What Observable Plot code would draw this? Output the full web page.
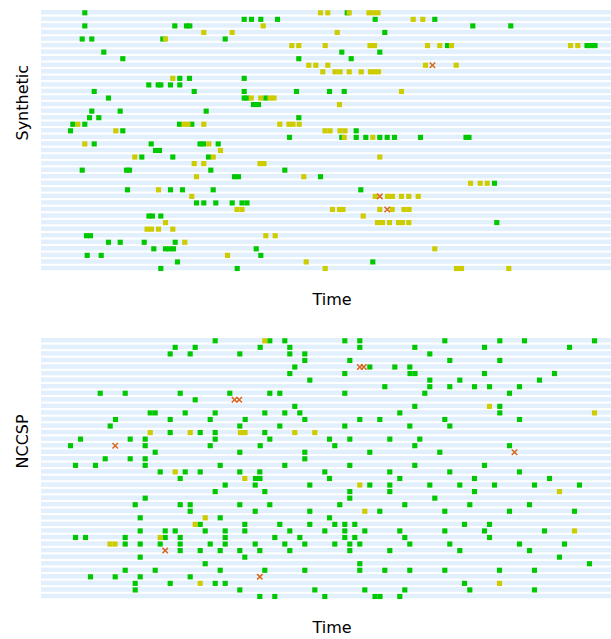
<!DOCTYPE html>
<html><head><meta charset="utf-8">
<script src="https://cdn.jsdelivr.net/npm/d3@7"></script>
<script src="https://cdn.jsdelivr.net/npm/@observablehq/plot@0.6"></script>
<style>body{margin:0;background:#fff} #chart{width:611px} svg{display:block}</style>
</head><body><div id="chart"></div>
<script>
// Row index = position in each array (row 0 at top), values = Time
const panelLabels = ["Synthetic", "NCCSP"];
const axisLabel = "Time";

const syntheticGreen = [
  [43.3, 305.7],
  [202.7, 210, 219.3, 236, 333.7, 393.3],
  [43.3, 133.3, 145, 148.3, 431.3, 469.3],
  [343.3],
  [40.7, 50.3, 121.3, 183.7],
  [406, 545.5, 549.5, 553.5],
  [62.3, 300.3, 338.3],
  [81.3, 257.3, 309.7],
  [],
  [],
  [138.3, 148, 202.7],
  [107.3, 116.7, 119.3, 129, 138.3],
  [52.7, 152.7, 202.7, 255, 288, 302.7],
  [67, 202.7, 205.3, 224.3],
  [212, 217],
  [50.3, 78.7, 164.7],
  [48, 57.3, 257.3],
  [31.3, 43.3, 138, 150.3],
  [29, 81.3, 314.7],
  [248, 300.3, 314.7, 324.3, 338.3, 345.7, 353, 379, 424.5, 427.5],
  [52.7, 109.7, 158.5, 162, 176.7],
  [114, 118],
  [100.3, 131.3, 167],
  [],
  [40.7, 85, 88, 169.3, 243.3],
  [193, 197, 279],
  [453],
  [86, 129, 141, 171.7, 319.3],
  [],
  [155, 162.3, 174.3, 190.7, 200.5, 205.5],
  [],
  [107.5, 111, 119.3],
  [455.3],
  [],
  [45, 49],
  [67, 78.7, 102.7, 133.7],
  [112.3, 124, 128, 132, 214.7],
  [45.7, 59.7, 219.3],
  [136, 331.3],
  [119.3, 195.7]
];
const syntheticYellow = [
  [279, 286.3, 307.7, 327.5, 332, 336.5],
  [371.7, 381.3],
  [221.7],
  [162.3, 190.7, 295.7],
  [124],
  [250.3, 257.3, 283.7, 328.5, 333, 386, 398.3, 410, 529, 536.3],
  [],
  [],
  [267.3, 274.3, 286.3, 384, 414.7],
  [281.3, 293.5, 298.5, 307.7, 319.7, 329, 333, 337],
  [131.3],
  [],
  [360],
  [209.7, 219.3, 228.5, 232.5],
  [298],
  [],
  [],
  [36.3, 142.5, 146.5, 162.3, 238.3, 247.5, 251.5, 257.7],
  [74.3, 283.5, 288.5, 298.5, 303.5],
  [302.7, 331.3],
  [43.3, 167.3],
  [179],
  [93.3, 171.7, 338.3],
  [152.7, 162.3, 218.5, 222.5],
  [],
  [155, 262.3],
  [429, 438.7, 445.7],
  [117],
  [150.3, 333.7, 346, 351, 360, 367.3, 376.7],
  [],
  [195.5, 200.5, 291, 298, 301.5, 338.3, 350.7, 362.5, 367.5],
  [321.7],
  [124, 336, 341, 348, 357, 361, 367.3],
  [105.5, 110, 117, 131.3],
  [224.3, 233.7],
  [143.3],
  [393.3],
  [186],
  [264.7],
  [283.7, 415, 420, 467.3]
];
const syntheticCross = [
  [], [], [], [], [], [], [], [], [391], [],
  [], [], [], [], [], [], [], [], [], [],
  [], [], [], [], [], [], [], [], [338.3], [],
  [345.7], [], [], [], [], [], [], [], [], []
];

const nccspGreen = [
  [173.7, 228.3, 243.3, 303.3, 318.3, 403.3, 458.3, 483, 553],
  [133.7, 153.7, 218.7, 248.3, 318.3, 373.3, 443, 528],
  [128.7, 148.7, 198.3, 248.3, 263.3, 388.3],
  [263.3, 308.3, 408.3, 458.3],
  [253.3, 328.3, 353.3, 368.3],
  [248.3, 303.3, 368.5, 373.5, 443, 513],
  [268.3, 388.3, 418.3, 498],
  [343.3, 388.3, 408.3, 433, 448, 478],
  [58.7, 83.7, 138.7, 188.3, 228.3, 238.3, 303.3, 383.3, 468],
  [153.7],
  [253.3, 373.3, 458.3],
  [108.7, 113.7, 143.7, 173.7, 223.3, 243.3, 258.3, 358.3, 458.3],
  [74, 128.7, 168.7, 203.7, 263.3, 318.3, 338.3, 403.3, 478],
  [68.7, 198.3, 238.3, 303.3, 368.3, 408.3],
  [128.7, 158.7, 173.7, 223.3],
  [39, 88.7, 103.7, 173.7, 228.3, 288, 308.3, 348.3, 378.3],
  [29, 103.7, 168.7, 218.7, 293.3, 373.3, 468],
  [113.7, 198.3, 263.3, 328.3, 398.3],
  [63.7, 88.7, 103.7, 263.3],
  [34, 54, 103.7, 178.7, 243.3, 308.3, 373.3, 443],
  [118.7, 143.7, 158.7, 198.3, 218.3, 283.3, 348.3, 408.3, 478],
  [138.7, 214, 218.5, 288, 358.3, 433, 508],
  [183.7, 213.7, 268.3, 328.3, 348.3, 388.3, 418.3, 453, 493, 538],
  [173.7, 223.3, 308.3, 348.3, 433],
  [103.7, 308.3, 393.3],
  [93.7, 138.7, 148.7, 198.3, 228.3, 298.3, 363.3, 428.3, 488],
  [148.7, 213.7, 268.3, 338.3, 403.3, 468, 533],
  [98.7, 178.7, 288],
  [158.7, 203.3, 238.3, 268.3, 293.3, 303.3, 313.3, 423, 448],
  [98.7, 123.7, 133.7, 163.7, 183.7, 203.3, 248.3, 283.3, 303.3, 323.3, 358.3, 403.3, 443, 503],
  [34, 44, 83.7, 123.7, 138.7, 183.7, 233.3, 258.3, 303.3, 313.3, 363.3, 448],
  [83.7, 98.7, 118.7, 138.7, 168.7, 183.7, 213.7, 243.3, 263.3, 293.3, 308.3, 318.3, 368.3, 408.3, 478, 523],
  [138.7, 158.7, 178.7, 198.3, 218.3, 248.3, 308.3, 348.3, 418.3, 488],
  [98.7, 203.3, 518],
  [163.7, 318.3, 548],
  [83.7, 113.7, 178.7, 223.3, 263.3, 318.3, 343.3, 368.3, 403.3, 458, 493],
  [49, 73.7, 98.7, 148.7],
  [93.7, 128.7, 173.7, 183.7, 423],
  [93.7, 198.3, 273.3, 323.3, 363.3, 428.3, 493],
  [218.3, 233.3, 283.3, 333.5, 338.5, 358.3]
];
const nccspYellow = [
  [223.3], [], [], [], [], [], [], [], [], [],
  [448], [553], [], [], [108.7, 148.7, 199, 203.5, 253.3, 273.3], [], [], [], [], [],
  [133.7], [203.3], [318.3], [518], [], [], [323.3], [163.7], [153.7], [533],
  [118.7], [68.5, 73.5], [], [], [], [], [], [158.7, 458], [], []
];
const nccspCross = [
  [], [], [], [], [318.3, 322.3], [], [], [], [], [193, 197.7],
  [], [], [], [], [], [], [73.7], [473], [], [],
  [], [], [], [], [], [], [], [], [], [],
  [], [], [123.7], [], [], [], [218.3], [], [], []
];

const rowCount = 40;
const timeDomain = [0, 570];
const colors = {green: "#00c800", yellow: "#cccc00", cross: "#d9661a", stripe: "#e2effc"};
const font = "DejaVu Sans";

function flatten(rowsOfTimes) {
  return rowsOfTimes.flatMap((times, row) => times.map(time => ({row, time})));
}

function panel(label, green, yellow, cross, height) {
  const rows = d3.range(rowCount);
  return Plot.plot({
    width: 611,
    height,
    marginLeft: 41,
    marginRight: 0,
    marginTop: 8,
    marginBottom: height - 272,
    style: {fontFamily: font, background: "white", color: "black"},
    x: {domain: timeDomain, range: [41, 611], axis: null},
    y: {domain: [0, rowCount - 1], range: [12.3, 268], axis: null},
    marks: [
      Plot.rect(rows, {x1: timeDomain[0], x2: timeDomain[1], y1: d => d - 0.34, y2: d => d + 0.34, fill: colors.stripe}),
      Plot.dot(flatten(green), {x: "time", y: "row", symbol: "square", r: 2.9, fill: colors.green, stroke: "none"}),
      Plot.dot(flatten(yellow), {x: "time", y: "row", symbol: "square", r: 2.9, fill: colors.yellow, stroke: "none"}),
      Plot.dot(flatten(cross), {x: "time", y: "row", symbol: "times", r: 2.6, stroke: colors.cross, strokeWidth: 1.5}),
      Plot.text([axisLabel], {text: d => d, frameAnchor: "bottom", dy: 27, dx: 5.5, fontSize: 16, fontFamily: font, fill: "black", lineAnchor: "middle"}),
      Plot.text([label], {text: d => d, frameAnchor: "left", dx: -19, rotate: -90, fontSize: 16, fontFamily: font, fill: "black", lineAnchor: "middle"})
    ]
  });
}

const chart = document.getElementById("chart");
chart.appendChild(panel(panelLabels[0], syntheticGreen, syntheticYellow, syntheticCross, 328));
chart.appendChild(panel(panelLabels[1], nccspGreen, nccspYellow, nccspCross, 311));
</script>
</body></html>
